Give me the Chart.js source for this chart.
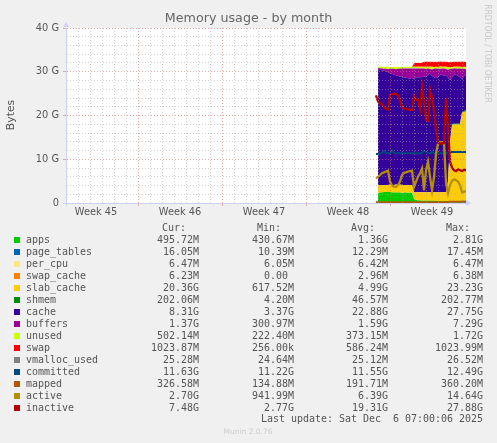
<!DOCTYPE html>
<html>
<head>
<meta charset="utf-8">
<title>Memory usage - by month</title>
<script src="https://cdn.jsdelivr.net/npm/chart.js@4"></script>
<style>
  html, body { margin: 0; padding: 0; background: #f0f0f0; }
  canvas { display: block; }
</style>
</head>
<body>
<canvas id="memory-chart" width="497" height="443"></canvas>
<script>
// one sample every 4 hours, in days from the left edge of the graph
const days = [
  25.83, 26, 26.17, 26.33, 26.5, 26.67, 26.83, 27, 27.17, 27.33, 27.5, 27.67,
  27.83, 28, 28.17, 28.33, 28.5, 28.67, 28.83, 29, 29.17, 29.33, 29.5, 29.67,
  29.83, 30, 30.17, 30.33, 30.5, 30.67, 30.83, 31, 31.17, 31.33, 31.5, 31.67,
  31.83, 32, 32.17, 32.33, 32.5, 32.67, 32.83, 33, 33.17, 33.33
];

const weekCenters = [2.5, 9.5, 16.5, 23.5, 30.5];
const weekLabels = ['Week 45', 'Week 46', 'Week 47', 'Week 48', 'Week 49'];

// stacked areas, GB
const apps = [null, 2.3, 2.4, 2.4, 2.5, 2.5, 2.5, 2.5, 2.4, 2.4, 2.4, 2.4, 2.4, 2.3, 2.4, 2.4, 2.3, 2.4, 2.3,
  0.9, 0.7, 0.6, 0.55, 0.5, 0.5, 0.5, 0.5, 0.5, 0.5, 0.5, 0.45, 0.45, 0.45, 0.45, 0.45, 0.45, 0.45, 0.45, 0.45, 0.45, 0.45, 0.45, 0.45, 0.48, 0.48, 0.48];
const pageTables = [null, 0.01, 0.01, 0.01, 0.01, 0.01, 0.01, 0.01, 0.01, 0.01, 0.01, 0.01, 0.01, 0.01, 0.01, 0.01, 0.01, 0.01, 0.01,
  0.01, 0.01, 0.01, 0.01, 0.01, 0.01, 0.01, 0.01, 0.01, 0.01, 0.01, 0.01, 0.01, 0.01, 0.01, 0.01, 0.01, 0.01, 0.02, 0.02, 0.02, 0.02, 0.02, 0.02, 0.02, 0.02, 0.02];
const perCpu = [null, 0.006, 0.006, 0.006, 0.006, 0.006, 0.006, 0.006, 0.006, 0.006, 0.006, 0.006, 0.006, 0.006, 0.006, 0.006, 0.006, 0.006, 0.006,
  0.006, 0.006, 0.006, 0.006, 0.006, 0.006, 0.006, 0.006, 0.006, 0.006, 0.006, 0.006, 0.006, 0.006, 0.006, 0.006, 0.006, 0.006, 0.006, 0.006, 0.006, 0.006, 0.006, 0.006, 0.006, 0.006, 0.006];
const swapCache = [null, 0, 0, 0, 0, 0, 0, 0, 0, 0, 0, 0, 0, 0, 0, 0, 0, 0, 0,
  0.001, 0.002, 0.003, 0.003, 0.003, 0.003, 0.003, 0.004, 0.004, 0.004, 0.004, 0.004, 0.005, 0.005, 0.005, 0.005, 0.005, 0.006, 0.006, 0.006, 0.006, 0.006, 0.006, 0.006, 0.006, 0.006, 0.006];
const slabCache = [null, 1.8, 1.7, 1.7, 1.6, 1.6, 1.6, 1.7, 1.7, 1.7, 1.8, 1.7, 1.8, 1.8, 1.7, 1.7, 1.8, 1.7, 1.8,
  1.55, 1.75, 1.85, 1.9, 1.95, 1.95, 1.95, 1.95, 1.95, 1.95, 1.95, 2, 2, 2, 2, 2, 2.05, 4.5, 13.5, 17.4, 17.45, 17.45, 17.45, 17.45, 20.1, 20.36, 20.36];
const shmem = [null, 0.004, 0.004, 0.004, 0.004, 0.004, 0.004, 0.004, 0.004, 0.004, 0.004, 0.004, 0.004, 0.004, 0.004, 0.004, 0.004, 0.004, 0.004,
  0.004, 0.004, 0.004, 0.004, 0.004, 0.004, 0.004, 0.004, 0.004, 0.004, 0.004, 0.004, 0.004, 0.004, 0.004, 0.004, 0.004, 0.01, 0.1, 0.15, 0.2, 0.2, 0.2, 0.2, 0.2, 0.2, 0.2];
const cache = [null, 26.3, 26.3, 26.2, 26.1, 26, 25.8, 25.4, 25.4, 25.2, 25, 24.9, 24.7, 24.6, 24.6, 24.5, 24.4, 24.3, 24.2,
  25.95, 26.25, 26.25, 26.25, 26.25, 26.45, 26.45, 26.85, 27.15, 26.55, 26.25, 26.05, 26.25, 26.85, 26.85, 26.55, 26.8, 23.7, 14, 10.65, 11.2, 11.2, 10.9, 10.6, 7.5, 7.96, 8.31];
const buffers = [null, 0.4, 0.4, 0.45, 0.45, 0.55, 0.65, 1.05, 1.15, 1.35, 1.35, 1.65, 1.75, 2, 2, 2.1, 2.2, 2.3, 2.4,
  2.3, 2, 2, 2, 2, 1.8, 1.7, 1.4, 1, 1.5, 1.95, 2.2, 1.95, 1.35, 1.4, 1.7, 1.3, 1.8, 2.55, 2, 1.4, 1.4, 1.65, 2, 2.4, 1.65, 1.2];
const unused = [null, 0.4, 0.4, 0.4, 0.5, 0.5, 0.6, 0.4, 0.4, 0.4, 0.5, 0.4, 0.4, 0.4, 0.4, 0.4, 0.4, 0.4, 0.4,
  0.4, 0.4, 0.4, 0.4, 0.4, 0.4, 0.5, 0.4, 0.5, 0.6, 0.4, 0.4, 0.4, 0.5, 0.4, 0.4, 0.5, 0.6, 0.4, 0.4, 0.4, 0.4, 0.45, 0.4, 0.4, 0.45, 0.5];
const swap = [null, 0, 0, 0, 0, 0, 0, 0, 0, 0, 0, 0, 0, 0, 0, 0, 0, 0, 0,
  0.85, 0.9, 0.9, 0.9, 0.95, 1.15, 1.15, 1.15, 1.15, 1.15, 1.15, 1.15, 1.15, 1.15, 1.15, 1.15, 1.15, 1.15, 1.15, 1.15, 1.15, 1.15, 1.15, 1.15, 1.15, 1.15, 1.15];

// lines on top of the stack, GB
const vmallocUsed = [0.025, 0.025, 0.025, 0.025, 0.025, 0.025, 0.025, 0.025, 0.025, 0.025, 0.025, 0.025, 0.025, 0.025, 0.025, 0.025, 0.025, 0.025, 0.025, 0.025, 0.025, 0.025, 0.025,
  0.025, 0.025, 0.025, 0.025, 0.025, 0.025, 0.025, 0.025, 0.025, 0.025, 0.025, 0.025, 0.025, 0.025, 0.025, 0.025, 0.025, 0.025, 0.025, 0.025, 0.025, 0.025, 0.025];
const committed = [11.2, 11.2, 11.3, 11.5, 11.9, 11.4, 11.4, 11.3, 12.1, 11.4, 11.35, 11.35, 11.35, 11.35, 11.35, 11.35, 11.35, 11.35, 11.35, 11.35, 11.35, 11.4, 11.4,
  11.4, 12, 11.6, 11.4, 11.35, 11.7, 11.4, 11.35, 11.35, 11.35, 11.35, 11.35, 11.35, 11.5, 11.63, 11.63, 11.63, 11.63, 11.63, 11.63, 11.63, 11.63, 11.63];
const mapped = [0.19, 0.19, 0.19, 0.19, 0.19, 0.19, 0.19, 0.19, 0.19, 0.19, 0.19, 0.19, 0.19, 0.19, 0.19, 0.19, 0.19, 0.19, 0.19, 0.19, 0.19, 0.19, 0.19,
  0.19, 0.19, 0.19, 0.19, 0.19, 0.19, 0.19, 0.19, 0.19, 0.19, 0.19, 0.19, 0.19, 0.25, 0.33, 0.33, 0.33, 0.33, 0.33, 0.33, 0.33, 0.33, 0.33];
const active = [5.6, 6, 6.4, 6.8, 7, 7.2, 7.4, 4.9, 4, 3.7, 3.7, 4.1, 4.9, 6.4, 6.9, 7, 7.2, 7.3, 7.4,
  3.7, 4.9, 6, 6.8, 7.9, 2.9, 7.5, 9.4, 6, 2.9, 6, 11.3, 13.6, 13.9, 13.9, 13.6, 4.5, 2.2, 4.1, 5.1, 5.4, 5.2, 4.9, 4.1, 2.4, 2.6, 2.7];
const inactive = [24.6, 23.2, 22.8, 22.5, 21.9, 21.6, 21.4, 24.7, 24.9, 25, 24.9, 24.5, 23.5, 21.9, 21.6, 21.5, 21.4, 21.3, 21.3,
  24.6, 23.6, 23.5, 21.5, 26.6, 23, 19, 18.8, 26, 24, 21, 17, 13.8, 13.6, 13.6, 13.8, 24, 17, 9.5, 8, 7.5, 7.3, 7.7, 7.5, 7.3, 7.6, 7.48];

// legend table
const legendNames = ['apps', 'page_tables', 'per_cpu', 'swap_cache', 'slab_cache', 'shmem', 'cache', 'buffers', 'unused', 'swap', 'vmalloc_used', 'committed', 'mapped', 'active', 'inactive'];
const legendColors = ['#00cc00', '#0066b3', '#ffe680', '#ff8000', '#ffcc00', '#008f00', '#330099', '#990099', '#ccff00', '#ff0000', '#808080', '#00487d', '#b35a00', '#b38f00', '#b30000'];
const curValues = ['495.72M', '16.05M', '6.47M', '6.23M', '20.36G', '202.06M', '8.31G', '1.37G', '502.14M', '1023.87M', '25.28M', '11.63G', '326.58M', '2.70G', '7.48G'];
const minValues = ['430.67M', '10.39M', '6.05M', '0.00 ', '617.52M', '4.20M', '3.37G', '300.97M', '222.40M', '256.00k', '24.64M', '11.22G', '134.88M', '941.99M', '2.77G'];
const avgValues = ['1.36G', '12.29M', '6.42M', '2.96M', '4.99G', '46.57M', '22.88G', '1.59G', '373.15M', '586.24M', '25.12M', '11.55G', '191.71M', '6.39G', '19.31G'];
const maxValues = ['2.81G', '17.45M', '6.47M', '6.38M', '23.23G', '202.77M', '27.75G', '7.29G', '1.72G', '1023.99M', '26.52M', '12.49G', '360.20M', '14.64G', '27.88G'];

const MONO = '"DejaVu Sans Mono"';
const SANS = '"DejaVu Sans"';
const TEXT = '#555555';
const AXIS = '#ccd0fa';
const GRID_MAJOR = 'rgba(225,110,110,0.6)';
const GRID_MINOR = 'rgba(165,165,165,0.5)';

function points(values) {
  return values.map((v, i) => ({ x: days[i], y: v }));
}

// order also sets the stacking order, so it has to rise with the index
function area(name, values, index) {
  return {
    label: name,
    data: points(values),
    backgroundColor: legendColors[index],
    borderWidth: 0,
    fill: index === 0 ? 'origin' : '-1',
    stack: 'areas',
    order: 20 + index
  };
}

function line(name, values, index, width) {
  return {
    label: name,
    data: points(values),
    borderColor: legendColors[index],
    borderWidth: width,
    fill: false,
    stack: name,
    order: 14 - index
  };
}

const page = {
  id: 'page',
  beforeDraw(chart) {
    const { ctx, chartArea: a } = chart;
    ctx.save();
    ctx.fillStyle = '#f0f0f0';
    ctx.fillRect(0, 0, chart.width, chart.height);
    ctx.fillStyle = '#ffffff';
    ctx.fillRect(a.left, a.top, a.right - a.left, a.bottom - a.top);
    ctx.restore();
  },
  afterDraw(chart) {
    const { ctx, chartArea: a } = chart;
    ctx.save();

    // axis arrows
    ctx.fillStyle = AXIS;
    ctx.beginPath();
    ctx.moveTo(a.left - 3, a.top - 1);
    ctx.lineTo(a.left + 3, a.top - 1);
    ctx.lineTo(a.left, a.top - 6);
    ctx.fill();
    ctx.beginPath();
    ctx.moveTo(a.right, a.bottom - 3);
    ctx.lineTo(a.right, a.bottom + 3);
    ctx.lineTo(a.right + 5, a.bottom);
    ctx.fill();

    ctx.textBaseline = 'middle';

    ctx.fillStyle = '#666666';
    ctx.font = '12.7px ' + SANS;
    ctx.textAlign = 'center';
    ctx.fillText('Memory usage - by month', 248.5, 19);

    ctx.fillStyle = TEXT;
    ctx.font = '10.8px ' + SANS;
    ctx.save();
    ctx.translate(11, 115);
    ctx.rotate(-Math.PI / 2);
    ctx.fillText('Bytes', 0, 0);
    ctx.restore();

    ctx.fillStyle = '#c8c8c8';
    ctx.font = '9px ' + SANS;
    ctx.save();
    ctx.translate(487, 53.5);
    ctx.rotate(Math.PI / 2);
    ctx.scale(0.85, 1);
    ctx.fillText('RRDTOOL / TOBI OETIKER', 0, 0);
    ctx.restore();

    ctx.fillStyle = '#cccccc';
    ctx.font = '7.5px ' + SANS;
    ctx.fillText('Munin 2.0.76', 248, 432);

    // legend table
    ctx.font = '9.97px ' + MONO;
    ctx.fillStyle = TEXT;
    ctx.textAlign = 'right';
    ctx.fillText('Cur:', 186, 228);
    ctx.fillText('Min:', 281, 228);
    ctx.fillText('Avg:', 375, 228);
    ctx.fillText('Max:', 470, 228);

    legendNames.forEach((name, i) => {
      const y = 240 + i * 12;
      ctx.fillStyle = legendColors[i];
      ctx.fillRect(14, y - 3, 6, 6);
      ctx.fillStyle = TEXT;
      ctx.textAlign = 'left';
      ctx.fillText(name, 26, y);
      ctx.textAlign = 'right';
      ctx.fillText(curValues[i], 199, y);
      ctx.fillText(minValues[i], 294, y);
      ctx.fillText(avgValues[i], 388, y);
      ctx.fillText(maxValues[i], 483, y);
    });
    ctx.fillText('Last update: Sat Dec  6 07:00:06 2025', 483, 419);
    ctx.restore();
  }
};

const ctx = document.getElementById('memory-chart').getContext('2d');
const memoryChart = new Chart(ctx, {
  type: 'line',
  data: {
    datasets: [
      area('apps', apps, 0),
      area('page_tables', pageTables, 1),
      area('per_cpu', perCpu, 2),
      area('swap_cache', swapCache, 3),
      area('slab_cache', slabCache, 4),
      area('shmem', shmem, 5),
      area('cache', cache, 6),
      area('buffers', buffers, 7),
      area('unused', unused, 8),
      area('swap', swap, 9),
      line('vmalloc_used', vmallocUsed, 10, 1.5),
      line('committed', committed, 11, 2),
      line('mapped', mapped, 12, 1.8),
      line('active', active, 13, 2.3),
      line('inactive', inactive, 14, 2.3)
    ]
  },
  options: {
    responsive: false,
    devicePixelRatio: 1,
    animation: false,
    layout: { padding: { left: 0, top: 28, right: 31, bottom: 220 } },
    elements: { point: { radius: 0 }, line: { tension: 0 } },
    plugins: { legend: { display: false }, tooltip: { enabled: false } },
    scales: {
      x: {
        type: 'linear',
        position: 'bottom',
        min: 0,
        max: 33.33,
        afterFit(scale) { scale.height = 0; },
        border: { color: AXIS, z: 1, dash: [1, 2] },
        grid: {
          z: 1,
          tickLength: 3,
          color: c => (c.tick.value % 7 === 6 ? GRID_MAJOR : GRID_MINOR),
          tickColor: c => (c.tick.value === 0 ? AXIS : c.tick.value % 7 === 6 ? GRID_MAJOR : 'transparent')
        },
        ticks: { display: false, stepSize: 1, autoSkip: false, includeBounds: false, maxTicksLimit: 100 }
      },
      weeks: {
        type: 'linear',
        position: 'bottom',
        min: 0,
        max: 33.33,
        afterFit(scale) { scale.height = 20; },
        afterBuildTicks(scale) { scale.ticks = weekCenters.map(value => ({ value })); },
        border: { display: false },
        grid: { display: false, drawTicks: false },
        ticks: {
          autoSkip: false,
          maxRotation: 0,
          padding: 4,
          color: TEXT,
          font: { family: SANS, size: 9.8 },
          callback: (value, i) => weekLabels[i]
        }
      },
      y: {
        stacked: true,
        min: 0,
        max: 40,
        afterFit(scale) { scale.width = 66; },
        border: { color: AXIS, z: 1, dash: [1, 2] },
        grid: {
          z: 1,
          tickLength: 3,
          color: c => (c.tick.value === 0 ? AXIS : c.tick.value % 10 === 0 ? GRID_MAJOR : GRID_MINOR),
          tickColor: c => (c.tick.value === 0 ? AXIS : c.tick.value % 10 === 0 ? GRID_MAJOR : 'transparent')
        },
        ticks: {
          stepSize: 2,
          autoSkip: false,
          padding: 4,
          color: TEXT,
          font: { family: SANS, size: 9.8 },
          callback: v => (v % 10 !== 0 ? '' : v === 0 ? '0' : v + ' G')
        }
      }
    }
  },
  plugins: [page]
});
</script>
</body>
</html>
